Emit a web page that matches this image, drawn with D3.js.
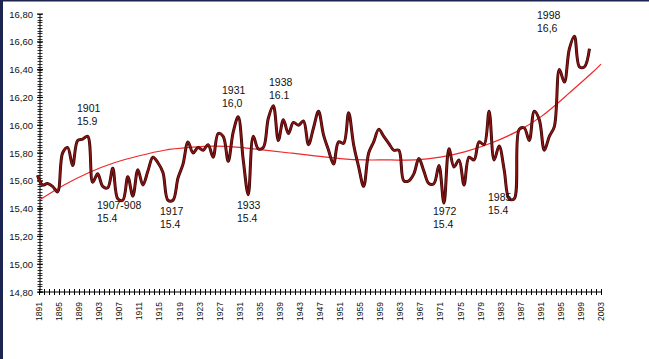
<!DOCTYPE html>
<html><head><meta charset="utf-8">
<script src="https://cdn.jsdelivr.net/npm/d3@7/dist/d3.min.js"></script>
<style>body{margin:0;background:#fff}svg{display:block}text{font-family:"Liberation Sans",Arial,sans-serif;fill:#111}</style>
</head><body><svg id="c" width="649" height="359"></svg>
<script>
const firstYear = 1891;
const temps = [
15.64,15.57,15.58,15.56,15.52,15.80,15.84,15.71,15.89,15.90,
15.92,15.59,15.65,15.56,15.55,15.69,15.47,15.46,15.63,15.49,
15.68,15.57,15.67,15.77,15.73,15.66,15.46,15.46,15.62,15.72,
15.88,15.80,15.84,15.82,15.86,15.77,15.94,15.92,15.74,15.95,
16.06,15.75,15.50,15.92,15.83,15.84,16.05,16.14,15.89,16.04,
15.94,16.02,16.00,16.03,15.86,15.98,16.10,15.93,15.82,15.72,
15.88,15.87,16.09,15.86,15.70,15.56,15.80,15.88,15.97,15.92,
15.87,15.82,15.82,15.60,15.60,15.65,15.76,15.67,15.58,15.58,
15.71,15.44,15.83,15.70,15.75,15.57,15.77,15.75,15.88,15.86,
16.10,15.75,15.85,15.68,15.47,15.47,15.97,15.98,15.89,16.10,
16.04,15.82,15.92,15.99,16.40,16.31,16.55,16.64,16.42,16.42,
16.55];
const trendYears = [1891,1896,1901,1906,1911,1916,1921,1926,1931,1936,1941,1946,1951,1956,1961,1966,1971,1976,1981,1986,1991,1996,2001,2003];
const trendVals  = [15.46,15.57,15.66,15.73,15.78,15.82,15.84,15.85,15.84,15.82,15.80,15.78,15.76,15.75,15.75,15.75,15.77,15.81,15.87,15.95,16.06,16.21,16.37,16.44];
const yTicks = [14.8,15.0,15.2,15.4,15.6,15.8,16.0,16.2,16.4,16.6,16.8];
const xTickYears = d3.range(1891, 2004, 4);
const notes = [
  {year:"1901", val:"15.9", x:77, y:112},
  {year:"1907-908", val:"15.4", x:97, y:209},
  {year:"1917", val:"15.4", x:160, y:215},
  {year:"1931", val:"16,0", x:222, y:94},
  {year:"1933", val:"15.4", x:237, y:209},
  {year:"1938", val:"16.1", x:269, y:86},
  {year:"1972", val:"15.4", x:433, y:215},
  {year:"1985", val:"15.4", x:488, y:201},
  {year:"1998", val:"16,6", x:537, y:19}
];

const svg = d3.select("#c");
const x = d3.scaleLinear().domain([1891, 2003]).range([39, 601]);
const y = d3.scaleLinear().domain([14.8, 16.8]).range([292, 14]);
const fmt = v => d3.format(".2f")(v).replace(".", ",");

// frame
svg.append("rect").attr("x",0).attr("y",0).attr("width",649).attr("height",359).attr("fill","#fff");
svg.append("line").attr("x1",1.5).attr("x2",1.5).attr("y1",0).attr("y2",359).attr("stroke","#1b2550").attr("stroke-width",3);
svg.append("line").attr("x1",0).attr("x2",649).attr("y1",0.75).attr("y2",0.75).attr("stroke","#1b2550").attr("stroke-width",1.5);

// y axis
const yAxisG = svg.append("g").attr("transform","translate(40,0)");
yAxisG.append("line").attr("y1",y(16.8)).attr("y2",y(14.8)).attr("stroke","#000");
const minorY = d3.range(0, 101).map(i => 14.8 + i*0.02);
yAxisG.selectAll("line.mt").data(minorY).join("line").attr("class","mt")
  .attr("x1",-2.5).attr("x2",2.5).attr("y1",d=>Math.round(y(d))+0.5).attr("y2",d=>Math.round(y(d))+0.5).attr("stroke","#000").attr("stroke-width",0.8);
yAxisG.selectAll("line.Mt").data(yTicks).join("line").attr("class","Mt")
  .attr("x1",-3).attr("x2",3).attr("y1",d=>y(d)).attr("y2",d=>y(d)).attr("stroke","#000");
yAxisG.selectAll("text").data(yTicks).join("text")
  .attr("x",-7).attr("y",d=>y(d)+3.5).attr("text-anchor","end").attr("font-size",9.5)
  .text(fmt);

// x axis
const xAxisG = svg.append("g").attr("transform","translate(0,292)");
xAxisG.append("line").attr("x1",x(1891)).attr("x2",x(2003)).attr("stroke","#000");
xAxisG.selectAll("line.t").data(d3.range(1891,2004)).join("line").attr("class","t")
  .attr("x1",d=>Math.round(x(d))+0.5).attr("x2",d=>Math.round(x(d))+0.5).attr("y1",-3).attr("y2",3).attr("stroke","#000").attr("stroke-width",1);
xAxisG.selectAll("text").data(xTickYears).join("text")
  .attr("transform",d=>`translate(${x(d)+3},10) rotate(-90)`)
  .attr("text-anchor","end").attr("font-size",8.5).text(d=>d);

// trend
svg.append("path").datum(trendYears.map((t,i)=>[t,trendVals[i]]))
  .attr("fill","none").attr("stroke","#f0282a").attr("stroke-width",1.2)
  .attr("d", d3.line().x(d=>x(d[0])).y(d=>y(d[1])).curve(d3.curveNatural));

// data line
const pts = temps.map((v,i)=>[firstYear+i, v]);
const line = d3.line().x(d=>x(d[0])-1.5).y(d=>y(d[1])).curve(d3.curveCatmullRom.alpha(0.5));
svg.append("path").datum(pts).attr("fill","none").attr("stroke","#3a0505").attr("stroke-width",3).attr("stroke-linejoin","round").attr("d",line);
svg.append("path").datum(pts).attr("fill","none").attr("stroke","#8a1414").attr("stroke-width",1.6).attr("stroke-linejoin","round").attr("d",line);

// annotations
const ng = svg.selectAll("g.note").data(notes).join("g").attr("class","note");
ng.append("text").attr("x",d=>d.x).attr("y",d=>d.y).attr("font-size",10.5).text(d=>d.year);
ng.append("text").attr("x",d=>d.x).attr("y",d=>d.y+13).attr("font-size",10.5).text(d=>d.val);
</script></body></html>
